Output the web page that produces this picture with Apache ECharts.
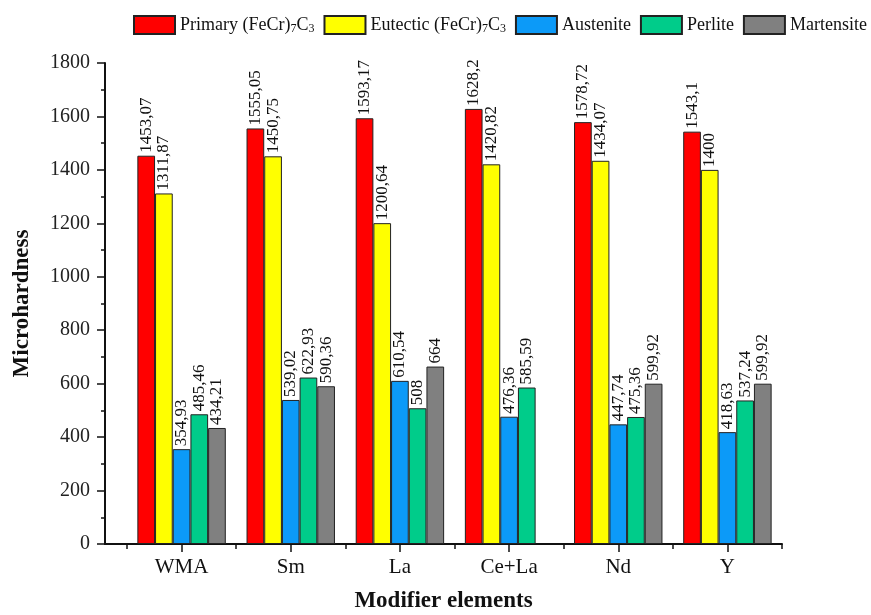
<!DOCTYPE html>
<html>
<head>
<meta charset="utf-8">
<title>Microhardness by modifier element</title>
<script src="https://cdn.jsdelivr.net/npm/echarts@6/dist/echarts.min.js"></script>
<style>
  html, body { margin: 0; padding: 0; background: #fff; }
  #chart { width: 871px; height: 615px; }
</style>
</head>
<body>
<div id="chart"></div>
<script>
// Modifier elements on the x axis
const categories = ['WMA', 'Sm', 'La', 'Ce+La', 'Nd', 'Y'];

// Phase microhardness per modifier (null = not measured)
const primary    = [1453.07, 1555.05, 1593.17, 1628.2, 1578.72, 1543.1];
const eutectic   = [1311.87, 1450.75, 1200.64, 1420.82, 1434.07, 1400];
const austenite  = [354.93, 539.02, 610.54, 476.36, 447.74, 418.63];
const perlite    = [485.46, 622.93, 508, 585.59, 475.36, 537.24];
const martensite = [434.21, 590.36, 664, null, 599.92, 599.92];

const seriesNames = ['Primary (FeCr)7C3', 'Eutectic (FeCr)7C3', 'Austenite', 'Perlite', 'Martensite'];
const seriesData = [primary, eutectic, austenite, perlite, martensite];
const seriesColors = ['#FF0000', '#FFFF00', '#0C9AF8', '#00CC8A', '#808080'];

const yTicks = { min: 0, max: 1800, interval: 200 };

const FONT = 'Liberation Serif';

const chart = echarts.init(document.getElementById('chart'), null, { renderer: 'canvas' });

const series = seriesNames.map((name, i) => ({
  name: name,
  type: 'bar',
  xAxisIndex: 1,
  yAxisIndex: 1,
  data: seriesData[i],
  barGap: '0%',
  barCategoryGap: '19%',
  itemStyle: { color: seriesColors[i], borderColor: '#222', borderWidth: 1 },
  label: {
    show: true,
    position: 'top',
    rotate: 90,
    align: 'left',
    verticalAlign: 'middle',
    distance: 3,
    fontFamily: FONT,
    fontSize: 17,
    color: '#111',
    formatter: p => (p.value == null ? '' : String(p.value).replace('.', ','))
  },
  emphasis: { disabled: true },
  animation: false
}));

chart.setOption({
  backgroundColor: '#ffffff',
  animation: false,
  legend: {
    top: 15,
    left: 133,
    padding: 0,
    icon: 'rect',
    itemWidth: 41,
    itemHeight: 18,
    itemGap: 9,
    selectedMode: false,
    data: seriesNames,
    formatter: name => name.replace('(FeCr)7C3', '(FeCr){s|7}C{s|3}'),
    textStyle: {
      fontFamily: FONT,
      fontSize: 18,
      color: '#111',
      lineHeight: 20,
      rich: {
        s: { fontFamily: FONT, fontSize: 12, color: '#111', verticalAlign: 'bottom', lineHeight: 12 }
      }
    }
  },
  grid: [
    { left: 105, right: 89, top: 63, bottom: 71, outerBoundsMode: 'none' },
    { left: 127, right: 89, top: 63, bottom: 71, outerBoundsMode: 'none' }
  ],
  xAxis: [
    {
      // full-length bottom axis line and title
      type: 'value',
      gridIndex: 0,
      min: 0,
      max: 1,
      axisLine: { show: true, onZero: false, lineStyle: { color: '#111', width: 2 } },
      axisTick: { show: false },
      axisLabel: { show: false },
      splitLine: { show: false },
      name: 'Modifier elements',
      nameLocation: 'middle',
      nameGap: 46,
      nameTextStyle: { fontFamily: FONT, fontSize: 23, fontWeight: 'bold', color: '#111' }
    },
    {
      // category boundaries (short ticks)
      type: 'category',
      gridIndex: 1,
      position: 'bottom',
      data: categories,
      axisLine: { show: false },
      axisTick: { show: true, length: 5, lineStyle: { color: '#111', width: 1.5 } },
      axisLabel: { show: false },
      splitLine: { show: false }
    },
    {
      // category centres (long ticks with labels)
      type: 'category',
      gridIndex: 1,
      position: 'bottom',
      data: categories,
      axisLine: { show: false },
      axisTick: { show: true, alignWithLabel: true, length: 8, lineStyle: { color: '#111', width: 1.5 } },
      axisLabel: { show: true, margin: 13, fontFamily: FONT, fontSize: 21, color: '#111' },
      splitLine: { show: false }
    }
  ],
  yAxis: [
    {
      type: 'value',
      gridIndex: 0,
      min: yTicks.min,
      max: yTicks.max,
      interval: yTicks.interval,
      axisLine: { show: true, lineStyle: { color: '#111', width: 2 } },
      axisTick: { show: true, length: 8, lineStyle: { color: '#111', width: 1.5 } },
      minorTick: { show: true, splitNumber: 2, length: 4, lineStyle: { color: '#111', width: 1.5 } },
      axisLabel: { margin: 15, fontFamily: FONT, fontSize: 20, color: '#222', formatter: v => String(v) },
      splitLine: { show: false },
      name: 'Microhardness',
      nameLocation: 'middle',
      nameGap: 71,
      nameTextStyle: { fontFamily: FONT, fontSize: 23, fontWeight: 'bold', color: '#111' }
    },
    {
      type: 'value',
      gridIndex: 1,
      min: yTicks.min,
      max: yTicks.max,
      interval: yTicks.interval,
      show: false,
      splitLine: { show: false }
    }
  ],
  series: series
});
</script>
</body>
</html>
